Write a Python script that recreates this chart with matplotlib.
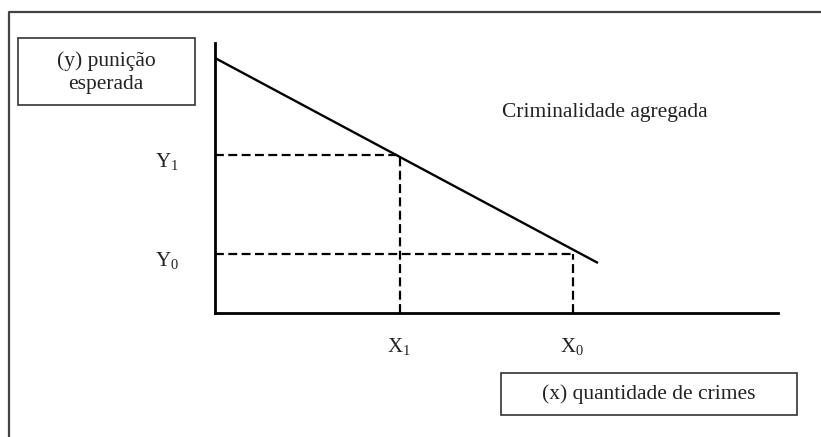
import matplotlib.pyplot as plt
from matplotlib.patches import Rectangle
from matplotlib.lines import Line2D

plt.rcParams['font.family'] = ['Liberation Serif', 'DejaVu Serif']
plt.rcParams['mathtext.fontset'] = 'custom'
plt.rcParams['mathtext.rm'] = 'Liberation Serif'

# curva de criminalidade agregada (unidades do diagrama)
curva_x = [0, 383]
curva_y = [255, 50]
# pontos de equilibrio
x_pts = [185, 358]
y_pts = [158, 59]
x_nomes = [r'X$_{\mathrm{1}}$', r'X$_{\mathrm{0}}$']
y_nomes = [r'Y$_{\mathrm{1}}$', r'Y$_{\mathrm{0}}$']

W, H = 821, 437
fig = plt.figure(figsize=(W / 100, H / 100), dpi=100)

def fx(px):
    return px / W

def fy(py):
    return 1 - py / H

# moldura externa (cortada a direita e embaixo)
fig.lines.append(Line2D([fx(9), fx(9), fx(821)], [fy(437), fy(12), fy(12)],
                        transform=fig.transFigure, lw=1.6, color='#444444'))

ax = fig.add_axes([fx(215), fy(313), fx(778) - fx(215), fy(43) - fy(313)])
ax.set_xlim(0, 563)
ax.set_ylim(0, 270)
for s in ['top', 'right']:
    ax.spines[s].set_visible(False)
ax.spines['left'].set_linewidth(2)
ax.spines['bottom'].set_linewidth(2)
ax.set_xticks([])
ax.set_yticks([])
ax.patch.set_alpha(0)

ax.plot(curva_x, curva_y, color='black', lw=1.7, solid_capstyle='butt')
for xv, yv in zip(x_pts, y_pts):
    ax.plot([0, xv], [yv, yv], color='black', lw=1.6, ls=(0, (4, 2)))
    ax.plot([xv, xv], [0, yv], color='black', lw=1.6, ls=(0, (4, 2)))

for xv, nome in zip(x_pts, x_nomes):
    ax.text(xv - 1, -34, nome, ha='center', va='center', fontsize=15, color='#222222')
for yv, nome in zip(y_pts, y_nomes):
    ax.text(-48, yv - 7, nome, ha='center', va='center', fontsize=15, color='#222222')

ax.text(390, 200, 'Criminalidade agregada', ha='center', va='center',
        fontsize=15.5, color='#222222')

# caixas dos rotulos dos eixos
fig.patches.append(Rectangle((fx(18), fy(105)), fx(195) - fx(18), fy(38) - fy(105),
                             transform=fig.transFigure, fill=False, lw=1.2, ec='#333333'))
fig.text(fx(106), fy(73), '(y) punição\nesperada', ha='center', va='center',
         fontsize=15.5, linespacing=1.3, color='#222222')
fig.patches.append(Rectangle((fx(501), fy(415)), fx(797) - fx(501), fy(373) - fy(415),
                             transform=fig.transFigure, fill=False, lw=1.2, ec='#333333'))
fig.text(fx(649), fy(394), '(x) quantidade de crimes', ha='center', va='center',
         fontsize=15.5, color='#222222')

fig.savefig('out.png', dpi=100)
